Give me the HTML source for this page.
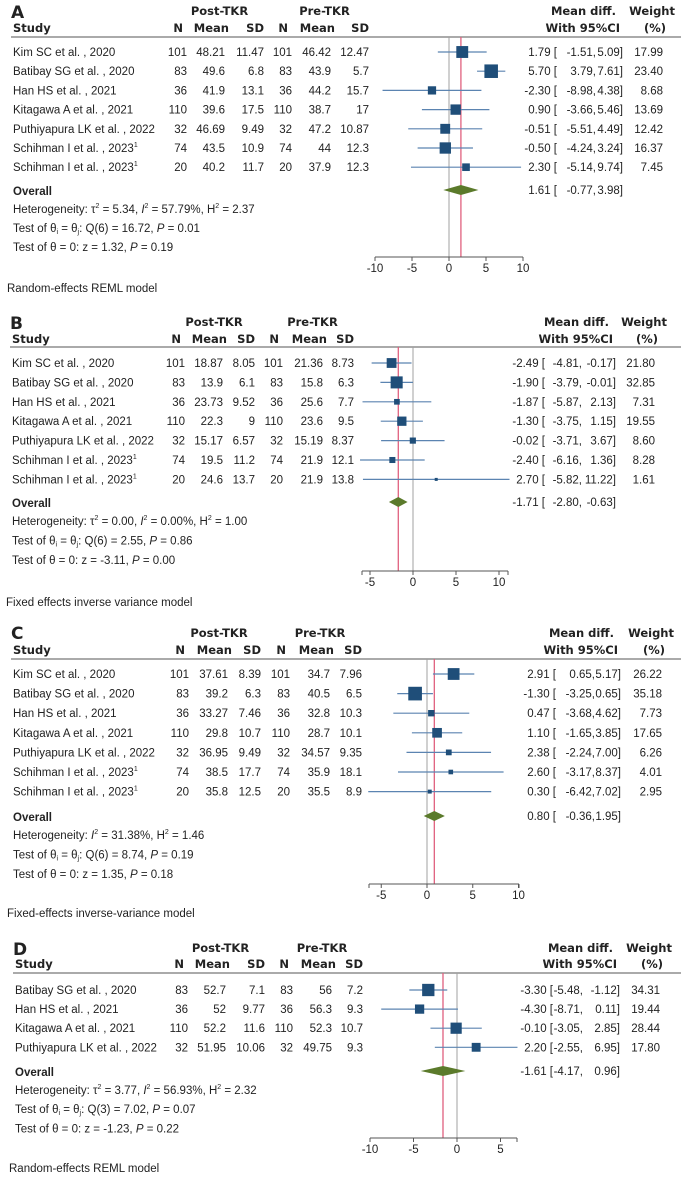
<!DOCTYPE html>
<html><head><meta charset="utf-8"><style>
html,body{margin:0;padding:0;background:#fff}
svg{display:block}
text{font-family:"Liberation Sans",sans-serif;font-size:11.5px;fill:#222}
.h{font-family:"DejaVu Sans","Liberation Sans",sans-serif;font-weight:bold;font-size:11.5px;fill:#222}
.L{font-family:"DejaVu Sans","Liberation Sans",sans-serif;font-weight:bold;font-size:17px;fill:#222}
</style></head><body>
<svg id="s" width="682" height="1179" viewBox="0 0 682 1179" xmlns="http://www.w3.org/2000/svg"></svg>
<script>
// ---- Panel A data ----
const studiesA=["Kim SC et al. , 2020","Batibay SG et al. , 2020","Han HS et al. , 2021","Kitagawa A et al. , 2021","Puthiyapura LK et al. , 2022","Schihman I et al. , 2023","Schihman I et al. , 2023"];
const supA=[0,0,0,0,0,1,1];
const postNA=["101","83","36","110","32","74","20"];
const postMeanA=["48.21","49.6","41.9","39.6","46.69","43.5","40.2"];
const postSDA=["11.47","6.8","13.1","17.5","9.49","10.9","11.7"];
const preNA=["101","83","36","110","32","74","20"];
const preMeanA=["46.42","43.9","44.2","38.7","47.2","44","37.9"];
const preSDA=["12.47","5.7","15.7","17","10.87","12.3","12.3"];
const effA=[1.79,5.70,-2.30,0.90,-0.51,-0.50,2.30];
const loA=[-1.51,3.79,-8.98,-3.66,-5.51,-4.24,-5.14];
const hiA=[5.09,7.61,4.38,5.46,4.49,3.24,9.74];
const wA=[17.99,23.40,8.68,13.69,12.42,16.37,7.45];
const overallA=[1.61,-0.77,3.98];
const ticksA=[-10,-5,0,5,10];
// ---- Panel B data ----
const studiesB=studiesA;
const postNB=["101","83","36","110","32","74","20"];
const postMeanB=["18.87","13.9","23.73","22.3","15.17","19.5","24.6"];
const postSDB=["8.05","6.1","9.52","9","6.57","11.2","13.7"];
const preNB=["101","83","36","110","32","74","20"];
const preMeanB=["21.36","15.8","25.6","23.6","15.19","21.9","21.9"];
const preSDB=["8.73","6.3","7.7","9.5","8.37","12.1","13.8"];
const effB=[-2.49,-1.90,-1.87,-1.30,-0.02,-2.40,2.70];
const loB=[-4.81,-3.79,-5.87,-3.75,-3.71,-6.16,-5.82];
const hiB=[-0.17,-0.01,2.13,1.15,3.67,1.36,11.22];
const wB=[21.80,32.85,7.31,19.55,8.60,8.28,1.61];
const overallB=[-1.71,-2.80,-0.63];
const ticksB=[-5,0,5,10];
// ---- Panel C data ----
const studiesC=studiesA;
const postNC=["101","83","36","110","32","74","20"];
const postMeanC=["37.61","39.2","33.27","29.8","36.95","38.5","35.8"];
const postSDC=["8.39","6.3","7.46","10.7","9.49","17.7","12.5"];
const preNC=["101","83","36","110","32","74","20"];
const preMeanC=["34.7","40.5","32.8","28.7","34.57","35.9","35.5"];
const preSDC=["7.96","6.5","10.3","10.1","9.35","18.1","8.9"];
const effC=[2.91,-1.30,0.47,1.10,2.38,2.60,0.30];
const loC=[0.65,-3.25,-3.68,-1.65,-2.24,-3.17,-6.42];
const hiC=[5.17,0.65,4.62,3.85,7.00,8.37,7.02];
const wC=[26.22,35.18,7.73,17.65,6.26,4.01,2.95];
const overallC=[0.80,-0.36,1.95];
const ticksC=[-5,0,5,10];
// ---- Panel D data ----
const studiesD=["Batibay SG et al. , 2020","Han HS et al. , 2021","Kitagawa A et al. , 2021","Puthiyapura LK et al. , 2022"];
const postND=["83","36","110","32"];
const postMeanD=["52.7","52","52.2","51.95"];
const postSDD=["7.1","9.77","11.6","10.06"];
const preND=["83","36","110","32"];
const preMeanD=["56","56.3","52.3","49.75"];
const preSDD=["7.2","9.3","10.7","9.3"];
const effD=[-3.30,-4.30,-0.10,2.20];
const loD=[-5.48,-8.71,-3.05,-2.55];
const hiD=[-1.12,0.11,2.85,6.95];
const wD=[34.31,19.44,28.44,17.80];
const overallD=[-1.61,-4.17,0.96];
const ticksD=[-10,-5,0,5];

const S=document.getElementById('s');
const NS="http://www.w3.org/2000/svg";
function mk(tag,at,parent){const e=document.createElementNS(NS,tag);for(const k in at)e.setAttribute(k,at[k]);(parent||S).appendChild(e);return e;}
function tx(x,y,s,anchor,cls,parent){const e=mk('text',{x:x,y:y,'text-anchor':anchor||'start'},parent);if(cls)e.setAttribute('class',cls);e.textContent=s;return e;}
function f2(v){return v.toFixed(2);}

function panel(c){
  const g=mk('g',{});
  
  
  const X=v=>c.zero+v*c.ppu;
  let t=tx(c.sx-2,c.yL+6,c.id,'start','L',g);
  
  t=tx(c.sx,c.yS+5,'Study','start','h',g);
  
  tx((c.col[0]+c.col[2])/2-6,c.yP+5,'Post-TKR','middle','h',g);
  tx((c.col[3]+c.col[5])/2-6,c.yP+5,'Pre-TKR','middle','h',g);
  const hd=['N','Mean','SD','N','Mean','SD'];
  const off=[-4,4,0,-4,4,0];
  hd.forEach((h,i)=>tx(c.col[i]+off[i],c.yS+5,h,'end','h',g));
  tx(c.ci[2]-7,c.yP+5,'Mean diff.','end','h',g);
  tx(c.ci[2]-3,c.yS+5,'With 95%CI','end','h',g);
  tx(c.wx+12,c.yP+5,'Weight','end','h',g);
  tx(c.wx+3,c.yS+5,'(%)','end','h',g);
  const hl=mk('line',{x1:c.sx-2,x2:681,y1:c.yLine,y2:c.yLine,stroke:'#777','stroke-width':1.2},g);
  
  const zl=mk('line',{x1:X(0),x2:X(0),y1:c.yLine,y2:c.axisY,stroke:'#a0a0a0','stroke-width':1},g);
  
  const rl=mk('line',{x1:X(c.ov[0]),x2:X(c.ov[0]),y1:c.yLine,y2:c.axisY,stroke:'#e0607e','stroke-width':1.3},g);
  
  const cols=[c.pn,c.pm,c.ps,c.qn,c.qm,c.qs];
  c.studies.forEach((s,i)=>{
    const y=c.y0+i*c.dy;
    const r=mk('g',{},g);
    
    const st=tx(c.sx,y+4,s,'start',null,r);
    if(c.sup&&c.sup[i]){const sp=mk('tspan',{dy:-5,'font-size':'7'},st);sp.textContent='1';}
    cols.forEach((a,k)=>tx(c.col[k],y+4,a[i],'end',null,r));
    const ln=mk('line',{x1:X(c.lo[i]),x2:X(c.hi[i]),y1:y,y2:y,stroke:'#5b84b1','stroke-width':1.2},r);
    
    const sz=Math.max(3,Math.sqrt(c.w[i])*c.sq);
    const sq=mk('rect',{x:X(c.eff[i])-sz/2,y:y-sz/2,width:sz,height:sz,fill:'#1f4e79'},r);
    
    tx(c.ci[0],y+4,f2(c.eff[i])+' [','end',null,r);
    tx(c.ci[1],y+4,f2(c.lo[i])+',','end',null,r);
    tx(c.ci[2],y+4,f2(c.hi[i])+']','end',null,r);
    tx(c.wx,y+4,f2(c.w[i]),'end',null,r);
  });
  t=tx(c.sx,c.yO+5,'Overall','start',null,g);t.setAttribute('font-weight','bold');
  
  const o=c.ov,y=c.yO;
  const dm=mk('polygon',{points:`${X(o[1])},${y} ${X(o[0])},${y-5} ${X(o[2])},${y} ${X(o[0])},${y+5}`,fill:'#5b7a2b'},g);
  
  tx(c.ci[0],y+4,f2(o[0])+' [','end',null,g);
  tx(c.ci[1],y+4,f2(o[1])+',','end',null,g);
  tx(c.ci[2],y+4,f2(o[2])+']','end',null,g);
  c.stats.forEach((h,i)=>{const e=mk('text',{x:c.sx,y:c.yH+i*c.dyH+4},g);e.innerHTML=h;
    });
  const ax=mk('line',{x1:c.ax0,x2:c.ax1,y1:c.axisY,y2:c.axisY,stroke:'#555','stroke-width':1},g);
  
  [c.ax0,c.ax1].forEach(xx=>mk('line',{x1:xx,x2:xx,y1:c.axisY,y2:c.axisY+4,stroke:'#555'},g));
  c.ticks.forEach(v=>{mk('line',{x1:X(v),x2:X(v),y1:c.axisY,y2:c.axisY+4,stroke:'#555'},g);
    const tl=tx(X(v),c.axisY+15,String(v),'middle',null,g);
    });
  t=tx(c.sx-6,c.yM+4,c.model,'start',null,g);
  
}
const sup=s=>`<tspan dy="-5" font-size="7">${s}</tspan><tspan dy="5">`;
const I2='<tspan font-style="italic">I</tspan>';
const P='<tspan font-style="italic">P</tspan>';
const th='Test of θ<tspan dy="2" font-size="7">i</tspan><tspan dy="-2"> = θ</tspan><tspan dy="2" font-size="7">j</tspan><tspan dy="-2">';
panel({id:'A',sx:13,yL:12,yP:10,yS:27,yLine:37,y0:52,dy:19.2,yO:190,yH:209,dyH:19,axisY:257,yM:288,
  zero:449,ppu:7.4,ax0:375,ax1:523,ticks:ticksA,col:[187,225,264,292,331,369],ci:[557,596,623],wx:663,sq:2.8,
  studies:studiesA,sup:supA,pn:postNA,pm:postMeanA,ps:postSDA,qn:preNA,qm:preMeanA,qs:preSDA,eff:effA,lo:loA,hi:hiA,w:wA,ov:overallA,
  stats:['Heterogeneity: τ'+sup('2')+' = 5.34, '+I2+sup('2')+' = 57.79%, H'+sup('2')+' = 2.37</tspan></tspan></tspan>',
   th+': Q(6) = 16.72, '+P+' = 0.01</tspan>','Test of θ = 0: z = 1.32, '+P+' = 0.19'],model:'Random-effects REML model'});
panel({id:'B',sx:12,yL:323,yP:321,yS:338,yLine:347,y0:363,dy:19.4,yO:502,yH:521,dyH:19.5,axisY:571,yM:602,
  zero:413,ppu:8.6,ax0:362,ax1:508,ticks:ticksB,col:[185,223,255,283,323,354],ci:[545,582,616],wx:655,sq:2.1,
  studies:studiesB,sup:supA,pn:postNB,pm:postMeanB,ps:postSDB,qn:preNB,qm:preMeanB,qs:preSDB,eff:effB,lo:loB,hi:hiB,w:wB,ov:overallB,
  stats:['Heterogeneity: τ'+sup('2')+' = 0.00, '+I2+sup('2')+' = 0.00%, H'+sup('2')+' = 1.00</tspan></tspan></tspan>',
   th+': Q(6) = 2.55, '+P+' = 0.86</tspan>','Test of θ = 0: z = -3.11, '+P+' = 0.00'],model:'Fixed effects inverse variance model'});
panel({id:'C',sx:13,yL:633,yP:632,yS:649,yLine:659,y0:674,dy:19.6,yO:816,yH:835,dyH:19.5,axisY:884,yM:913,
  zero:427,ppu:9.15,ax0:369,ax1:519,ticks:ticksC,col:[189,228,261,290,330,362],ci:[556,595,621],wx:662,sq:2.3,
  studies:studiesC,sup:supA,pn:postNC,pm:postMeanC,ps:postSDC,qn:preNC,qm:preMeanC,qs:preSDC,eff:effC,lo:loC,hi:hiC,w:wC,ov:overallC,
  stats:['Heterogeneity: '+I2+sup('2')+' = 31.38%, H'+sup('2')+' = 1.46</tspan></tspan>',
   th+': Q(6) = 8.74, '+P+' = 0.19</tspan>','Test of θ = 0: z = 1.35, '+P+' = 0.18'],model:'Fixed-effects inverse-variance model'});
panel({id:'D',sx:15,yL:949,yP:947,yS:963,yLine:973,y0:990,dy:19.1,yO:1071,yH:1090,dyH:19.2,axisY:1138,yM:1168,
  zero:457,ppu:8.7,ax0:370,ax1:517,ticks:ticksD,col:[188,226,265,293,332,363],ci:[553,583,620],wx:660,sq:2.1,
  studies:studiesD,sup:null,pn:postND,pm:postMeanD,ps:postSDD,qn:preND,qm:preMeanD,qs:preSDD,eff:effD,lo:loD,hi:hiD,w:wD,ov:overallD,
  stats:['Heterogeneity: τ'+sup('2')+' = 3.77, '+I2+sup('2')+' = 56.93%, H'+sup('2')+' = 2.32</tspan></tspan></tspan>',
   th+': Q(3) = 7.02, '+P+' = 0.07</tspan>','Test of θ = 0: z = -1.23, '+P+' = 0.22'],model:'Random-effects REML model'});
</script>
</body></html>
